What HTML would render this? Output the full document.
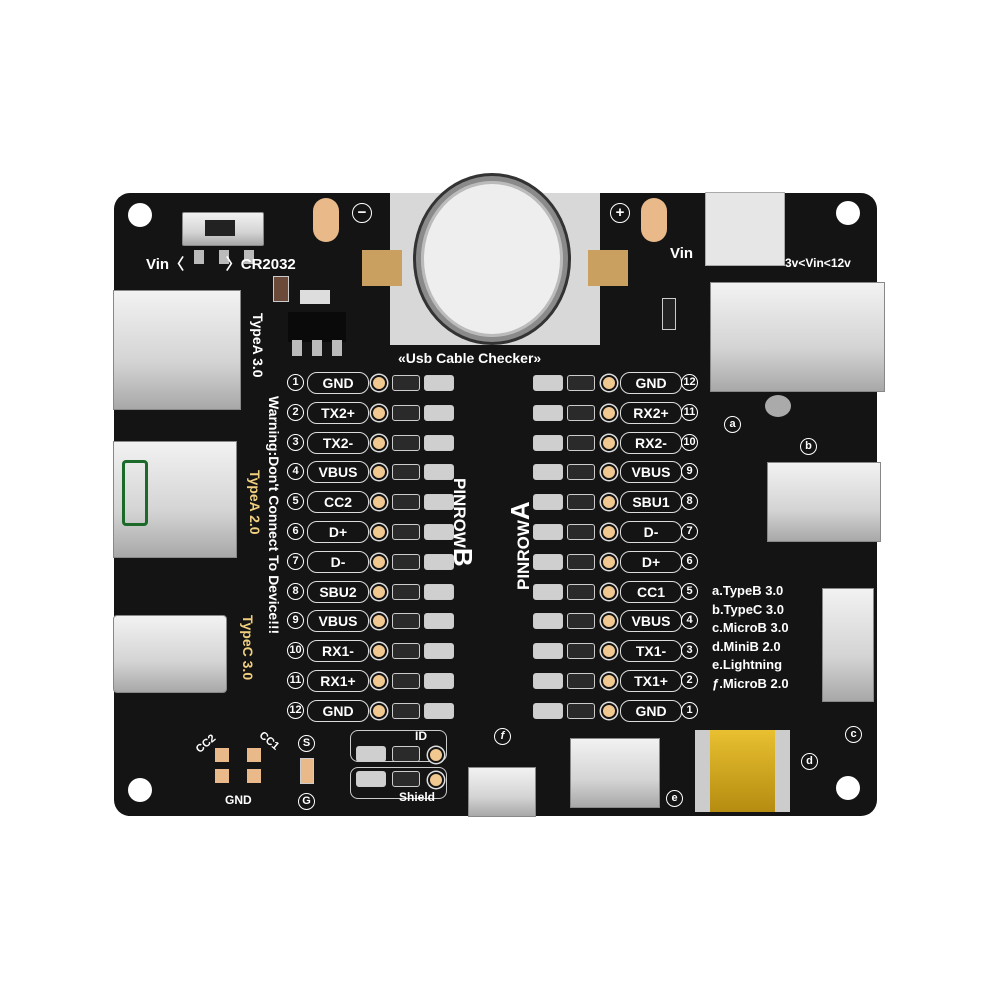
<!DOCTYPE html>
<html><head><meta charset="utf-8"><style>
body{margin:0;width:1000px;height:1000px;background:#fff;position:relative;overflow:hidden;font-family:"Liberation Sans",sans-serif}
.a{position:absolute}
.board{left:114px;top:193px;width:763px;height:623px;background:#141414;border-radius:16px}
.hole{width:24px;height:24px;border-radius:50%;background:#fff}
.silver{background:linear-gradient(180deg,#f2f2f2,#d4d4d4 60%,#a8a8a8);border:1px solid #888}
.t{color:#fff;font-weight:bold;font-size:14px;white-space:nowrap}
.num{width:15px;height:15px;border:1.5px solid #fff;border-radius:50%;color:#fff;font-size:11px;font-weight:bold;text-align:center;line-height:15px}
.lbl{height:20px;border:1.5px solid #ddd;border-radius:10px;color:#fff;font-weight:bold;font-size:14px;line-height:20px;text-align:center}
.pad{width:12px;height:12px;border-radius:50%;background:#f0c890;border:2px solid #141414;box-shadow:0 0 0 1.5px #ddd}
.led{width:26px;height:14px;border:1.5px solid #ccc;border-radius:3px;background:#2a2a2a}
.led2{width:28px;height:14px;border:1.5px solid #ccc;border-radius:3px;background:#cfcfcf}
.v{transform-origin:0 0;transform:rotate(90deg)}
</style></head><body>
<div class="a board"></div>
<div class="a hole" style="left:128px;top:203px"></div>
<div class="a hole" style="left:836px;top:201px"></div>
<div class="a hole" style="left:128px;top:778px"></div>
<div class="a hole" style="left:836px;top:776px"></div>

<!-- switch -->
<div class="a silver" style="left:182px;top:212px;width:80px;height:32px;border-radius:2px"></div>
<div class="a" style="left:205px;top:220px;width:30px;height:16px;background:#222"></div>
<div class="a" style="left:194px;top:250px;width:60px;height:14px;background:repeating-linear-gradient(90deg,#bbb 0 10px,transparent 10px 25px)"></div>
<div class="a t" style="left:146px;top:253px;font-size:15px">Vin〈&nbsp;&nbsp;&nbsp;&nbsp;&nbsp;&nbsp;&nbsp;&nbsp;&nbsp;&nbsp;〉CR2032</div>
<div class="a" style="left:313px;top:198px;width:26px;height:44px;border-radius:13px;background:#e9b98a"></div>
<div class="a" style="left:641px;top:198px;width:26px;height:44px;border-radius:13px;background:#e9b98a"></div>
<div class="a num" style="left:352px;top:203px;font-size:15px;width:18px;height:18px;line-height:17px">−</div>
<div class="a num" style="left:610px;top:203px;font-size:15px;width:18px;height:18px;line-height:17px">+</div>
<!-- coin holder -->
<div class="a" style="left:390px;top:193px;width:210px;height:152px;background:#d8d8d8"></div>
<div class="a" style="left:362px;top:250px;width:40px;height:36px;background:#c9a060"></div>
<div class="a" style="left:588px;top:250px;width:40px;height:36px;background:#c9a060"></div>
<div class="a" style="left:416px;top:176px;width:142px;height:156px;border-radius:50%;background:#eee;border:5px solid #8a8a8a;box-shadow:0 0 0 3px #333, inset 0 0 0 3px #bbb"></div>
<div class="a t" style="left:398px;top:350px;font-size:14px">«Usb Cable Checker»</div>
<!-- small parts left -->
<div class="a" style="left:273px;top:276px;width:14px;height:24px;background:#6b4a3a;border:1px solid #ccc"></div>
<div class="a" style="left:300px;top:290px;width:30px;height:14px;background:#ddd"></div>
<div class="a" style="left:288px;top:312px;width:58px;height:30px;background:#0a0a0a"></div>
<div class="a" style="left:292px;top:340px;width:50px;height:16px;background:repeating-linear-gradient(90deg,#bbb 0 10px,transparent 10px 20px)"></div>
<!-- USB ports left -->
<div class="a silver" style="left:113px;top:290px;width:126px;height:118px"></div>
<div class="a silver" style="left:113px;top:441px;width:122px;height:115px"></div>
<div class="a" style="left:122px;top:460px;width:20px;height:60px;border:3px solid #1b6a2a;border-radius:4px"></div>
<div class="a silver" style="left:113px;top:615px;width:112px;height:76px;border-radius:4px"></div>
<div class="a t v" style="left:266px;top:313px;font-size:14px">TypeA 3.0</div>
<div class="a t v" style="left:282px;top:396px;font-size:14px">Warning:Don't Connect To Device!!!</div>
<div class="a t v" style="left:263px;top:470px;font-size:14px;color:#f0d080">TypeA 2.0</div>
<div class="a t v" style="left:256px;top:615px;font-size:14px;color:#f0d080">TypeC 3.0</div>

<!-- right top -->
<div class="a" style="left:705px;top:192px;width:78px;height:72px;background:#e6e6e6;border:1px solid #aaa"></div>
<div class="a t" style="left:670px;top:245px;font-size:15px">Vin</div>
<div class="a t" style="left:785px;top:256px;font-size:12px">3v&lt;Vin&lt;12v</div>
<div class="a" style="left:662px;top:298px;width:12px;height:30px;border:1.5px solid #ccc;background:#222"></div>
<div class="a silver" style="left:710px;top:282px;width:173px;height:108px"></div>
<div class="a" style="left:765px;top:395px;width:26px;height:22px;border-radius:50%;background:#aaa"></div>
<div class="a num" style="left:724px;top:416px">a</div>
<div class="a num" style="left:800px;top:438px">b</div>
<div class="a silver" style="left:767px;top:462px;width:112px;height:78px"></div>
<div class="a silver" style="left:822px;top:588px;width:50px;height:112px"></div>
<div class="a num" style="left:845px;top:726px">c</div>
<div class="a num" style="left:801px;top:753px">d</div>
<div class="a num" style="left:666px;top:790px">e</div>
<div class="a num" style="left:494px;top:728px;font-style:italic">f</div>
<div class="a t" style="left:712px;top:582px;font-size:13px;line-height:18.5px">a.TypeB 3.0<br>b.TypeC 3.0<br>c.MicroB 3.0<br>d.MiniB 2.0<br>e.Lightning<br>ƒ.MicroB 2.0</div>
<!-- bottom connectors -->
<div class="a silver" style="left:570px;top:738px;width:88px;height:68px"></div>
<div class="a" style="left:695px;top:730px;width:95px;height:82px;background:#ccc"></div>
<div class="a" style="left:710px;top:730px;width:65px;height:82px;background:linear-gradient(180deg,#e8c030,#b58c10);"></div>
<div class="a silver" style="left:468px;top:767px;width:66px;height:48px"></div>
<!-- bottom-left -->
<div class="a t" style="left:195px;top:738px;font-size:11px;transform:rotate(-40deg)">CC2</div>
<div class="a t" style="left:258px;top:735px;font-size:11px;transform:rotate(40deg)">CC1</div>
<div class="a" style="left:215px;top:748px;width:14px;height:14px;background:#e9b98a"></div>
<div class="a" style="left:247px;top:748px;width:14px;height:14px;background:#e9b98a"></div>
<div class="a" style="left:215px;top:769px;width:14px;height:14px;background:#e9b98a"></div>
<div class="a" style="left:247px;top:769px;width:14px;height:14px;background:#e9b98a"></div>
<div class="a t" style="left:225px;top:793px;font-size:12px">GND</div>
<div class="a num" style="left:298px;top:735px">S</div>
<div class="a" style="left:300px;top:758px;width:12px;height:24px;background:#e9b98a;border:1.5px solid #ccc"></div>
<div class="a num" style="left:298px;top:793px">G</div>
<div class="a" style="left:350px;top:730px;width:95px;height:30px;border:1.5px solid #ccc;border-radius:8px"></div>
<div class="a" style="left:350px;top:767px;width:95px;height:30px;border:1.5px solid #ccc;border-radius:8px"></div>
<div class="a t" style="left:415px;top:729px;font-size:12px">ID</div>
<div class="a t" style="left:399px;top:790px;font-size:12px">Shield</div>
<div class="a led2" style="left:356px;top:746px"></div><div class="a led" style="left:392px;top:746px"></div><div class="a pad" style="left:428px;top:747px"></div>
<div class="a led2" style="left:356px;top:771px"></div><div class="a led" style="left:392px;top:771px"></div><div class="a pad" style="left:428px;top:772px"></div>

<div class="a t v" style="left:478px;top:478px;font-size:17px">PINROW<span style="font-size:26px">B</span></div>
<div class="a t" style="left:505px;top:590px;font-size:17px;transform-origin:0 0;transform:rotate(-90deg)">PINROW<span style="font-size:26px">A</span></div>

<div id="rows"></div>
<script>
var L=["GND","TX2+","TX2-","VBUS","CC2","D+","D-","SBU2","VBUS","RX1-","RX1+","GND"];
var R=["GND","RX2+","RX2-","VBUS","SBU1","D-","D+","CC1","VBUS","TX1-","TX1+","GND"];
var h="";
for(var i=0;i<12;i++){var y=383+i*29.8;
h+='<div class="a num" style="left:287px;top:'+(y-9)+'px">'+(i+1)+'</div>';
h+='<div class="a lbl" style="left:307px;top:'+(y-11)+'px;width:60px">'+L[i]+'</div>';
h+='<div class="a pad" style="left:371px;top:'+(y-8)+'px"></div>';
h+='<div class="a led" style="left:392px;top:'+(y-8)+'px"></div>';
h+='<div class="a led2" style="left:424px;top:'+(y-8)+'px"></div>';
h+='<div class="a led2" style="left:533px;top:'+(y-8)+'px"></div>';
h+='<div class="a led" style="left:567px;top:'+(y-8)+'px"></div>';
h+='<div class="a pad" style="left:601px;top:'+(y-8)+'px"></div>';
h+='<div class="a lbl" style="left:620px;top:'+(y-11)+'px;width:60px">'+R[i]+'</div>';
h+='<div class="a num" style="left:681px;top:'+(y-9)+'px">'+(12-i)+'</div>';}
document.getElementById("rows").innerHTML=h;
</script>
</body></html>
